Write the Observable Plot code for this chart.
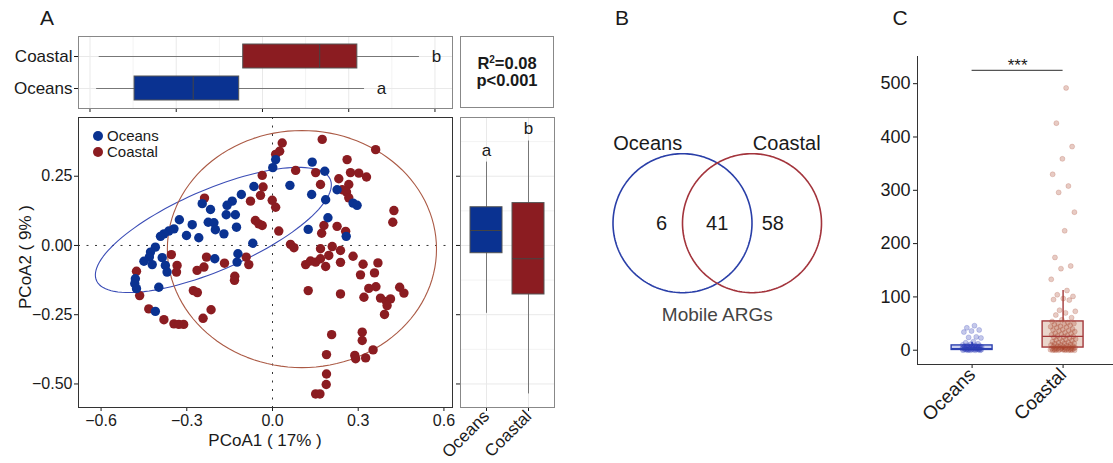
<!DOCTYPE html>
<html><head><meta charset="utf-8">
<script src="https://cdn.jsdelivr.net/npm/d3@7"></script>
<script src="https://cdn.jsdelivr.net/npm/@observablehq/plot@0.6"></script>
<style>
body{margin:0;background:#fff;}
#wrap{position:relative;width:1113px;height:463px;overflow:hidden;font-family:"Liberation Sans",Arial,Helvetica,sans-serif;color:#1a1a1a;background:#fff}
#wrap svg{position:absolute}
.ctr{position:absolute;transform:translate(-50%,-50%);line-height:1;white-space:nowrap}
</style></head><body><div id="wrap"></div>
<script>
// ---------------- DATA ----------------
const groups = ["Oceans", "Coastal"];
// Panel A: PCoA scores
const oceansPC1 = [-0.065,-0.109,-0.141,-0.159,-0.246,-0.217,-0.162,-0.130,-0.326,-0.281,-0.225,-0.205,-0.126,-0.345,-0.363,-0.380,-0.392,-0.301,-0.258,-0.200,-0.170,-0.069,-0.410,-0.427,-0.431,-0.450,-0.386,-0.421,-0.375,-0.369,-0.121,-0.124,-0.202,-0.480,-0.482,-0.476,-0.398,-0.410,0.011,0.001,0.139,0.183,0.061,0.137,0.186,0.226,0.282,0.296,0.194,0.125,0.258];
const oceansPC2 = [0.213,0.184,0.160,0.145,0.151,0.130,0.111,0.111,0.093,0.075,0.084,0.082,0.066,0.060,0.052,0.042,0.033,0.036,0.028,0.057,0.042,0.008,-0.006,-0.024,-0.042,-0.057,-0.044,-0.069,-0.072,-0.096,-0.030,-0.060,-0.048,-0.120,-0.138,-0.156,-0.151,-0.238,0.310,0.281,0.301,0.268,0.217,0.184,0.165,0.201,0.153,0.145,0.100,0.058,0.033];
const coastalPC1 = [-0.036,-0.033,-0.042,-0.077,-0.238,-0.060,-0.048,-0.036,-0.354,-0.231,-0.334,-0.336,-0.264,-0.240,-0.168,-0.092,-0.083,-0.132,-0.133,-0.476,-0.465,-0.277,-0.263,-0.433,-0.380,-0.345,-0.328,-0.311,-0.243,-0.215,0.034,0.174,0.361,0.011,0.025,0.261,0.081,0.151,0.273,0.302,0.329,0.232,0.168,0.267,0.244,0.259,0.267,-0.001,0.011,0.425,0.421,0.022,0.180,0.172,0.226,0.256,0.063,0.075,0.168,0.197,0.209,0.238,0.282,0.116,0.133,0.151,0.168,0.186,0.238,0.317,0.369,0.308,0.357,0.125,0.238,0.337,0.362,0.320,0.378,0.399,0.413,0.401,0.392,0.445,0.460,0.207,0.314,0.314,0.352,0.189,0.288,0.291,0.326,0.189,0.188,0.151,0.166];
const coastalPC2 = [0.253,0.211,0.181,0.160,0.171,0.090,0.078,0.072,-0.033,-0.042,-0.072,-0.096,-0.090,-0.078,-0.064,-0.042,-0.069,-0.111,-0.126,-0.093,-0.181,-0.163,-0.170,-0.229,-0.268,-0.283,-0.285,-0.285,-0.263,-0.232,0.370,0.383,0.346,0.329,0.340,0.310,0.271,0.263,0.263,0.261,0.247,0.241,0.220,0.220,0.201,0.193,0.172,0.163,0.138,0.126,0.084,0.052,0.072,0.044,0.069,0.051,0.004,-0.008,-0.012,-0.036,-0.004,-0.018,-0.039,-0.069,-0.056,-0.060,-0.048,-0.076,-0.061,-0.068,-0.063,-0.106,-0.099,-0.163,-0.175,-0.155,-0.149,-0.187,-0.190,-0.202,-0.193,-0.217,-0.249,-0.151,-0.172,-0.322,-0.313,-0.343,-0.377,-0.394,-0.397,-0.409,-0.406,-0.464,-0.502,-0.536,-0.536];
// 95% ellipses (centre, sd, correlation) per group
const ellCX = [-0.207, 0.103];
const ellCY = [0.056, -0.013];
const ellSX = [0.413, 0.471];
const ellSY = [0.226, 0.428];
const ellRho = [0.72, 0.0];
// Marginal boxplot PC1 (top)
const pc1Lo = [-0.577, -0.568];
const pc1Q1 = [-0.445, -0.067];
const pc1Med = [-0.241, 0.199];
const pc1Q3 = [-0.081, 0.330];
const pc1Hi = [0.355, 0.546];
const pc1Letters = ["a", "b"];
// Marginal boxplot PC2 (right)
const pc2Lo = [-0.245, -0.536];
const pc2Q1 = [-0.028, -0.177];
const pc2Med = [0.054, -0.048];
const pc2Q3 = [0.138, 0.153];
const pc2Hi = [0.301, 0.377];
const pc2Letters = ["a", "b"];
const permR2 = "0.08";
const permP = "p<0.001";
const axisTitleX = "PCoA1 ( 17% )";
const axisTitleY = "PCoA2 ( 9% )";
// Panel B: Venn
const vennSets = ["Oceans", "Coastal"];
const vennOnly = [6, 58];
const vennShared = 41;
const vennTitle = "Mobile ARGs";
// Panel C: abundance per sample
const mgeOceans = [46,42,38,36,34,25,24,23,16,14,12,11,10,9,9,8,8,7,7,6,6,6,5,5,5,5,4,4,4,4,3,3,3,3,3,2,2,2,2,2,1,1,1,1,1,0,0,0,0,0];
const mgeCoastal = [492,426,382,359,330,308,296,259,224,174,158,153,133,112,104,101,97,95,94,75,73,70,66,61,57,54,52,51,50,49,48,47,45,44,43,42,40,39,38,37,36,35,33,32,31,30,29,28,27,26,25,24,23,22,21,20,19,18,17,16,15,14,13,13,12,11,10,10,9,8,8,7,7,6,6,5,5,4,4,4,3,3,3,3,2,2,2,2,1,1,1,1,1,0,0,0,0,0,0,0];
const cLo = [0, 0];
const cQ1 = [0.5, 5];
const cMed = [3, 26];
const cQ3 = [9, 54];
const cHi = [15, 112];
const sigLabel = "***";
const sigValue = 525;
const yTicksC = [0, 100, 200, 300, 400, 500];

// ---------------- STYLE ----------------
const FONT = '"Liberation Sans", Arial, Helvetica, sans-serif';
const fillA = ["#0a3291", "#8b1c21"];
const ellStroke = ["#3b4db6", "#ab5a45"];
const vennStroke = ["#2a3fa8", "#a3343c"];
const cStroke = ["#2c40b0", "#a3383a"];
const cBoxFill = ["#c9cff1", "#ead6cc"];
const cDot = ["#2a38b5", "#a8442a"];

const wrap = document.getElementById("wrap");
function put(svg, left, top) { svg.style.left = left + "px"; svg.style.top = top + "px"; wrap.appendChild(svg); return svg; }
function txt(html, cx, cy, css) {
  const d = document.createElement("div"); d.className = "ctr"; d.innerHTML = html;
  d.style.left = cx + "px"; d.style.top = cy + "px"; Object.assign(d.style, css || {}); wrap.appendChild(d); return d;
}
function axisFont(svg, sx, sy) {
  const s = d3.select(svg);
  if (sx) s.selectAll('[aria-label^="x-axis"]').attr("font-size", sx).selectAll("text").attr("font-size", sx);
  if (sy) s.selectAll('[aria-label^="y-axis"]').attr("font-size", sy).selectAll("text").attr("font-size", sy);
}
const minus = f => d => f(d).replace("-", "\u2212");
const baseStyle = (fs) => ({fontFamily: FONT, fontSize: fs + "px", color: "#1a1a1a", background: "transparent", overflow: "visible"});

// ---------------- PANEL A: top boxplot ----------------
const pc1Box = groups.map((g, i) => ({g, i, lo: pc1Lo[i], q1: pc1Q1[i], med: pc1Med[i], q3: pc1Q3[i], hi: pc1Hi[i], letter: pc1Letters[i]}));
const topTicks = [-0.6, -0.3, 0, 0.3, 0.6];
const topMinor = [-0.45, -0.15, 0.15, 0.45];
const topSvg = put(Plot.plot({
  width: 460, height: 115, marginLeft: 78, marginRight: 8, marginTop: 36, marginBottom: 7,
  style: baseStyle(17),
  x: {domain: [-0.640, 0.661], ticks: topTicks, tickFormat: () => "", tickSize: 4, label: null},
  y: {type: "band", domain: ["Coastal", "Oceans"], paddingInner: 0.25, paddingOuter: 0.225, tickSize: 4, tickPadding: 2, label: null},
  marks: [
    Plot.ruleX(topMinor, {stroke: "#f3f3f3"}),
    Plot.ruleX(topTicks, {stroke: "#e9e9e9"}),
    Plot.ruleY(groups, {y: d => d, stroke: "#e9e9e9"}),
    Plot.ruleY(pc1Box, {y: "g", x1: "lo", x2: "hi", stroke: "#777"}),
    Plot.barX(pc1Box, {y: "g", x1: "q1", x2: "q3", fill: d => fillA[d.i], stroke: "#555"}),
    Plot.tickX(pc1Box, {y: "g", x: "med", stroke: "#444"}),
    Plot.text(pc1Box, {y: "g", x: "hi", text: "letter", dx: 17, fontSize: 17}),
    Plot.frame({stroke: "#888"})
  ]
}), 0, 0);
axisFont(topSvg, null, 17);

// ---------------- PANEL A: main PCoA ----------------
const yDomA = [-0.585, 0.462];
const yTicksA = [-0.5, -0.25, 0, 0.25];
const oceansPts = oceansPC1.map((x, k) => ({pc1: x, pc2: oceansPC2[k]}));
const coastalPts = coastalPC1.map((x, k) => ({pc1: x, pc2: coastalPC2[k]}));
const ellPts = groups.map((g, i) => d3.range(0, 121).map(k => {
  const t = 2 * Math.PI * k / 120;
  return {x: ellCX[i] + ellSX[i] * Math.cos(t),
          y: ellCY[i] + ellSY[i] * (ellRho[i] * Math.cos(t) + Math.sqrt(1 - ellRho[i] ** 2) * Math.sin(t))};
}));
const mainSvg = put(Plot.plot({
  width: 460, height: 353, marginLeft: 78, marginRight: 8, marginTop: 7, marginBottom: 56,
  style: baseStyle(16),
  x: {domain: [-0.679, 0.630], ticks: topTicks, tickFormat: minus(d3.format(".1f")), tickSize: 4, tickPadding: 3, label: null},
  y: {domain: yDomA, ticks: yTicksA, tickFormat: minus(d3.format(".2f")), tickSize: 4, tickPadding: 2, label: null},
  marks: [
    Plot.ruleX([0], {stroke: "#333", strokeDasharray: "2,6.5"}),
    Plot.ruleY([0], {stroke: "#333", strokeDasharray: "2,6.5"}),
    Plot.line(ellPts[0], {x: "x", y: "y", stroke: ellStroke[0], strokeWidth: 1.1}),
    Plot.line(ellPts[1], {x: "x", y: "y", stroke: ellStroke[1], strokeWidth: 1.1}),
    Plot.dot(coastalPts, {x: "pc1", y: "pc2", r: 4.7, fill: fillA[1]}),
    Plot.dot(oceansPts, {x: "pc1", y: "pc2", r: 4.7, fill: fillA[0]}),
    Plot.frame({stroke: "#333"})
  ]
}), 0, 110);
axisFont(mainSvg, 16, 16);

// legend inside main panel
groups.forEach((g, i) => {
  const cy = 136 + i * 16;
  const dot = document.createElement("div");
  Object.assign(dot.style, {position: "absolute", left: (98 - 5) + "px", top: (cy - 5) + "px", width: "10px", height: "10px", borderRadius: "50%", background: fillA[i]});
  wrap.appendChild(dot);
  const t = document.createElement("div"); t.textContent = g;
  Object.assign(t.style, {position: "absolute", left: "107px", top: (cy - 8) + "px", fontSize: "15px", lineHeight: "16px"});
  wrap.appendChild(t);
});

// axis titles
txt(axisTitleX, 265, 440, {fontSize: "17px"});
txt(axisTitleY, 25, 257, {fontSize: "17px", transform: "translate(-50%,-50%) rotate(-90deg)"});

// ---------------- PANEL A: right boxplot ----------------
const pc2Box = groups.map((g, i) => ({g, i, lo: pc2Lo[i], q1: pc2Q1[i], med: pc2Med[i], q3: pc2Q3[i], hi: pc2Hi[i], letter: pc2Letters[i]}));
const rightSvg = put(Plot.plot({
  width: 110, height: 353, marginLeft: 10, marginRight: 6, marginTop: 7, marginBottom: 56,
  style: baseStyle(17),
  x: {type: "band", domain: groups, paddingInner: 0.25, paddingOuter: 0.225, tickRotate: -45, tickSize: 4, tickPadding: 2, label: null},
  y: {domain: yDomA, ticks: yTicksA, tickFormat: () => "", tickSize: 4, label: null},
  marks: [
    Plot.ruleY([-0.375, -0.125, 0.125, 0.375], {stroke: "#f3f3f3"}),
    Plot.ruleY(yTicksA, {stroke: "#e9e9e9"}),
    Plot.ruleX(groups, {x: d => d, stroke: "#e9e9e9"}),
    Plot.ruleX(pc2Box, {x: "g", y1: "lo", y2: "hi", stroke: "#777"}),
    Plot.barY(pc2Box, {x: "g", y1: "q1", y2: "q3", fill: d => fillA[d.i], stroke: "#555"}),
    Plot.tickY(pc2Box, {x: "g", y: "med", stroke: "#444"}),
    Plot.text(pc2Box, {x: "g", y: "hi", text: "letter", dy: -12, fontSize: 17}),
    Plot.frame({stroke: "#888"})
  ]
}), 450, 110);
axisFont(rightSvg, 17, null);

// R2 box
const r2 = document.createElement("div");
Object.assign(r2.style, {position: "absolute", left: "460px", top: "36px", width: "92px", height: "70px", border: "1px solid #888",
  display: "flex", flexDirection: "column", justifyContent: "center", alignItems: "center", fontWeight: "bold", fontSize: "16.5px", lineHeight: "17px"});
r2.innerHTML = `<div>R<sup style="font-size:10px;line-height:0">2</sup>=${permR2}</div><div>${permP}</div>`;
wrap.appendChild(r2);

// ---------------- PANEL B: Venn ----------------
const circlePts = vennSets.map((s, i) => d3.range(0, 181).map(k => {
  const t = 2 * Math.PI * k / 180; return {x: i + Math.cos(t), y: Math.sin(t)};
}));
const regions = [
  {n: vennOnly[0], x: 0 - 0.3},
  {n: vennShared, x: 0.5},
  {n: vennOnly[1], x: 1 + 0.3}
];
const setLabels = vennSets.map((s, i) => ({s, x: i === 0 ? i - 0.5 : i + 0.5, y: 1.15}));
put(Plot.plot({
  width: 280, height: 463, margin: 0,
  style: baseStyle(20),
  x: {domain: [-1.7554, 2.2734], axis: null},
  y: {domain: [-3.4576, 3.2043], axis: null},
  marks: [
    Plot.line(circlePts[0], {x: "x", y: "y", stroke: vennStroke[0], strokeWidth: 1.6}),
    Plot.line(circlePts[1], {x: "x", y: "y", stroke: vennStroke[1], strokeWidth: 1.6}),
    Plot.text(setLabels, {x: "x", y: "y", text: "s", fontSize: 20}),
    Plot.text(regions, {x: "x", y: () => 0, text: "n", fontSize: 20}),
    Plot.text([vennTitle], {x: () => 0.5, y: () => -1, text: d => d, dy: 22, fontSize: 19, fill: "#444"})
  ]
}), 560, 0);

// ---------------- PANEL C ----------------
const yDomC = [-26.8, 551];
const xDomC = [0.4, 2.554];
const jit = (k, w) => (((k * 0.6180339887) % 1) - 0.5) * w;
const cPts = [
  ...mgeOceans.map((v, k) => ({gi: 0, x: 1 + jit(k + 1, 0.22), v})),
  ...mgeCoastal.map((v, k) => ({gi: 1, x: 2 + jit(k + 1, 0.28), v}))
];
const cBox = groups.map((g, i) => ({i, pos: i + 1, lo: cLo[i], q1: cQ1[i], med: cMed[i], q3: cQ3[i], hi: cHi[i]}));
const cSvg = put(Plot.plot({
  width: 273, height: 463, marginLeft: 77, marginRight: 0, marginTop: 56, marginBottom: 99,
  style: baseStyle(17),
  x: {domain: xDomC, ticks: [1, 2], tickFormat: d => groups[d - 1], tickRotate: -45, tickSize: 4, tickPadding: 3, label: null},
  y: {domain: yDomC, ticks: yTicksC, tickSize: 4, tickPadding: 3, label: null},
  marks: [
    Plot.ruleX([xDomC[0]], {stroke: "#333"}),
    Plot.ruleY([yDomC[0]], {stroke: "#333"}),
    Plot.ruleX(cBox, {x: "pos", y1: "q3", y2: "hi", stroke: d => cStroke[d.i], strokeWidth: 1.4}),
    Plot.ruleX(cBox, {x: "pos", y1: "lo", y2: "q1", stroke: d => cStroke[d.i], strokeWidth: 1.4}),
    Plot.rect(cBox, {x1: d => d.pos - 0.225, x2: d => d.pos + 0.225, y1: "q1", y2: "q3", fill: d => cBoxFill[d.i], stroke: d => cStroke[d.i], strokeWidth: 1.4}),
    Plot.dot(cPts, {x: "x", y: "v", r: 2.5, fill: d => cDot[d.gi], fillOpacity: 0.28, stroke: d => cDot[d.gi], strokeOpacity: 0.3, strokeWidth: 0.7}),
    Plot.ruleY(cBox, {x1: d => d.pos - 0.225, x2: d => d.pos + 0.225, y: "med", stroke: d => cStroke[d.i], strokeWidth: 1.4}),
    Plot.ruleY([sigValue], {x1: 1, x2: 2, stroke: "#555", strokeWidth: 1.3}),
    Plot.text([sigLabel], {x: () => 1.5, y: () => sigValue, text: d => d, dy: -5, fontSize: 17})
  ]
}), 840, 0);
axisFont(cSvg, 19, 18);

// panel letters
txt("A", 47, 17, {fontSize: "21px"});
txt("B", 622, 17, {fontSize: "21px"});
txt("C", 900, 17, {fontSize: "21px"});
</script></body></html>
